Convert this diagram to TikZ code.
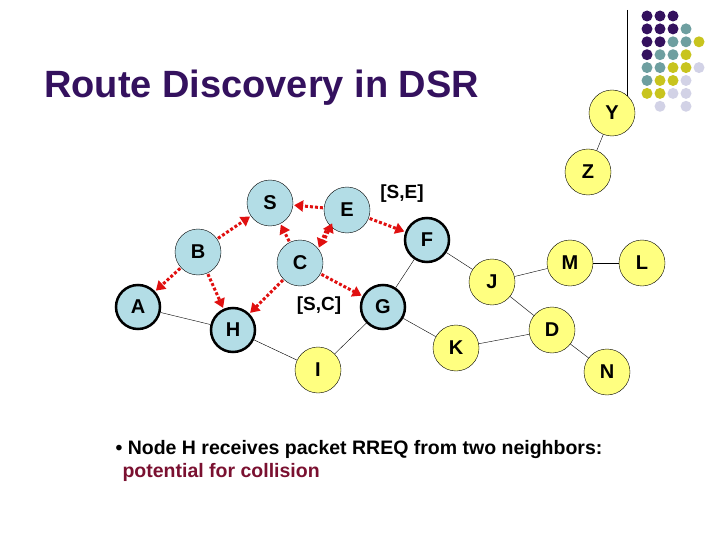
\documentclass[tikz,border=0pt]{standalone}
\usepackage{fontspec}
\setmainfont{Liberation Sans}
\usetikzlibrary{arrows.meta}
\definecolor{tp}{HTML}{34115E}
\definecolor{tt}{HTML}{6E9FA0}
\definecolor{ty}{HTML}{C8C41E}
\definecolor{tl}{HTML}{D2D2E6}
\definecolor{cy}{HTML}{B3DDE6}
\definecolor{yl}{HTML}{FFFF80}
\definecolor{rr}{HTML}{E01010}
\definecolor{tr}{HTML}{7A1030}
\begin{document}
\begin{tikzpicture}[x=1pt,y=-1pt,
 nd/.style={circle,draw=black,minimum size=46pt,inner sep=0pt,font=\bfseries\fontsize{20}{20}\selectfont},
 bl/.style={nd,fill=cy,thin},
 blt/.style={nd,fill=cy,line width=2.5pt,minimum size=44pt},
 ye/.style={nd,fill=yl,thin},
 ar/.style={draw=rr,line width=3pt,dash pattern=on 3pt off 2pt,-{Triangle[length=9pt,width=11pt,fill=rr]},shorten >=1pt,shorten <=1pt},
 ln/.style={draw=black,thin},
 lb/.style={font=\bfseries\fontsize{19}{19}\selectfont},
 dt/.style={circle,inner sep=0pt,minimum size=11pt}]
\useasboundingbox (0,0) rectangle (720,540);
\node[anchor=west,text=tp,font=\bfseries\fontsize{38}{38}\selectfont,inner sep=0pt] (title) at (44,88) {Route Discovery in DSR};
\coordinate (top) at (627,10);
\coordinate (bot) at (627,96);
\node[ye] (Y) at (612,113) {Y};
\node[ye] (Z) at (588,172) {Z};
\node[bl] (S) at (270,203) {S};
\node[bl] (E) at (347,210) {E};
\node[bl] (B) at (198,252) {B};
\node[bl] (C) at (300,263) {C};
\node[blt] (F) at (427,240) {F};
\node[blt] (A) at (138,307) {A};
\node[blt] (H) at (233,330) {H};
\node[blt] (G) at (383,307) {G};
\node[ye] (I) at (318,370) {I};
\node[ye] (K) at (456,348) {K};
\node[ye] (J) at (492,282) {J};
\node[ye] (M) at (570,263) {M};
\node[ye] (L) at (642,263) {L};
\node[ye] (D) at (552,330) {D};
\node[ye] (N) at (607,372) {N};
\node[lb] (lse) at (402,194) {[S,E]};
\node[lb] (lsc) at (319,306) {[S,C]};
\draw[ln] (top) -- (bot);
\foreach \a/\b in {A/H,H/I,F/G,G/I,G/K,F/J,J/M,M/L,J/D,K/D,D/N,Y/Z} \draw[ln] (\a) -- (\b);
\foreach \a/\b in {E/S,E/F,B/S,C/S,B/A,B/H,C/H,C/G} \draw[ar] (\a) -- (\b);
\draw[ar] ([xshift=-4pt,yshift=-3pt]E.south west) -- ([xshift=2pt,yshift=-2pt]C.north east);
\draw[ar] ([xshift=6pt,yshift=3pt]C.north east) -- ([xshift=2pt,yshift=4pt]E.south west);
\node[anchor=west,font=\bfseries\fontsize{19.5}{23}\selectfont,align=left] (txt) at (112,461) {• Node H receives packet RREQ from two neighbors:\\\hspace*{7pt}\textcolor{tr}{potential for collision}};
% dots
\foreach \r/\row in {0/{tp,tp,tp},1/{tp,tp,tp,tt},2/{tp,tp,tt,tt,ty},3/{tp,tt,tt,ty},4/{tt,tt,ty,ty,tl},5/{tt,ty,ty,tl},6/{ty,ty,tl,tl},7/{white,tl,white,tl}}{
 \foreach \c [count=\i from 0] in \row {
  \node[dt,fill=\c] (d\r\i) at (647+13*\i,16+12.9*\r) {};}}
\end{tikzpicture}
\end{document}
